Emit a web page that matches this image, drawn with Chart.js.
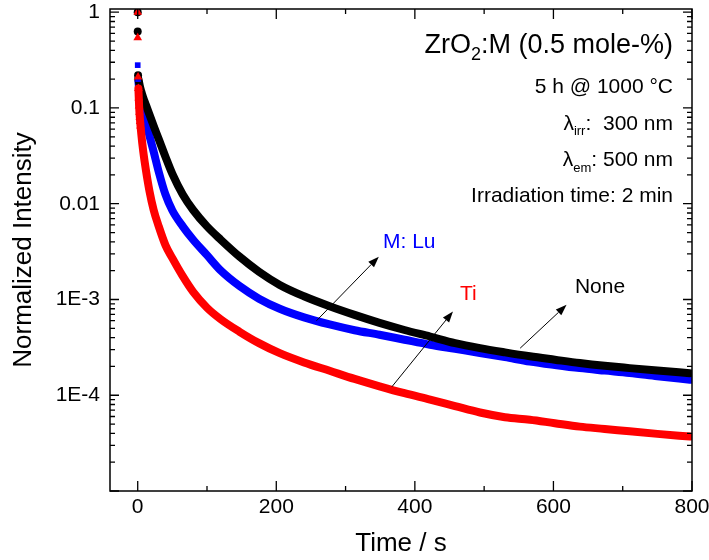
<!DOCTYPE html>
<html lang="en">
  <head>
    <meta charset="UTF-8" />
    <title>ZrO2:M persistent luminescence decay</title>
    <style>
      body { margin: 0; background: #fff; }
      canvas { display: block; }
    </style>
    <script src="https://cdn.jsdelivr.net/npm/chart.js"></script>
  </head>
  <body>
    <canvas id="chart" width="709" height="560"></canvas>
    <script>
      // time axis (s) of the main decay bands
      const mainT = [1, 2, 3, 5, 8, 12, 17, 23, 30, 40, 50, 65, 80, 100, 120, 147, 175, 205, 240,
        277, 313, 349, 385, 422, 458, 494, 530, 566, 602, 638, 674, 710, 750, 797];

      const noneI = [0.20, 0.185, 0.17, 0.15, 0.128, 0.107, 0.085, 0.065, 0.048, 0.031, 0.0205, 0.0125,
        0.0086, 0.0058, 0.0042, 0.0028, 0.00195, 0.00142, 0.00108, 0.00085, 0.00069, 0.00057, 0.00048,
        0.00041, 0.00035, 0.00031, 0.00028, 0.000255, 0.000235, 0.000217, 0.000203, 0.000192, 0.000181, 0.00017];

      const luI = [0.19, 0.16, 0.14, 0.115, 0.093, 0.07, 0.051, 0.035, 0.022, 0.0125, 0.0085, 0.0058,
        0.0042, 0.0029, 0.002, 0.00138, 0.00102, 0.0008, 0.00065, 0.000548, 0.000477, 0.000428, 0.00038,
        0.000337, 0.000305, 0.000276, 0.00025, 0.000225, 0.000207, 0.000192, 0.000181, 0.000171, 0.000158, 0.000145];

      const tiI = [0.16, 0.105, 0.08, 0.055, 0.035, 0.022, 0.0135, 0.0086, 0.0059, 0.0037, 0.0027, 0.00175,
        0.0012, 0.00082, 0.00062, 0.00046, 0.00035, 0.000275, 0.00022, 0.00018, 0.000148, 0.000124, 0.000105,
        0.00009, 0.000077, 0.000066, 0.000059, 0.0000555, 0.000051, 0.000047, 0.0000445, 0.000042, 0.0000395, 0.000037];

      // first separate measurement points near t = 0
      const noneEarlyT = [0, 0, 0.5];
      const noneEarlyI = [1, 0.63, 0.22];
      const luEarlyT = [0, 0, 0.5];
      const luEarlyI = [1, 0.28, 0.2];
      const tiEarlyT = [0, 0, 0.5, 1, 1.5, 2, 2.5, 3, 3.5, 4];
      const tiEarlyI = [1, 0.54, 0.21, 0.16, 0.127, 0.105, 0.09, 0.08, 0.072, 0.065];

      // axes
      const xTicks = [0, 200, 400, 600, 800];
      const xMinorTicks = [100, 300, 500, 700];
      const yTicks = [1e-4, 1e-3, 0.01, 0.1, 1];
      const yTickLabels = ["1E-4", "1E-3", "0.01", "0.1", "1"];
      const yDecades = [1e-5, 1e-4, 1e-3, 0.01, 0.1, 1];

      const RED = "#ff0000", BLUE = "#0000ff", BLACK = "#000000";
      const FONT = "'Liberation Sans', Arial, sans-serif";

      Chart.defaults.font.family = FONT;
      Chart.defaults.color = "#000";

      const pts = (t, v) => t.map((tt, i) => ({ x: tt, y: v[i] }));

      const band = (label, t, v, color, order) => ({
        label,
        data: pts(t, v),
        borderColor: color,
        backgroundColor: color,
        borderWidth: 8,
        pointRadius: 0,
        cubicInterpolationMode: "monotone",
        borderJoinStyle: "round",
        borderCapStyle: "round",
        order,
      });

      const dots = (label, t, v, color, style, r, order) => ({
        label,
        data: pts(t, v),
        showLine: false,
        pointStyle: style,
        pointRadius: r,
        borderWidth: 0,
        backgroundColor: color,
        borderColor: color,
        order,
      });

      // annotation layout (data coordinates)
      const arrows = [
        { from: [258, 6.0e-4], to: [348, 2.8e-3] },
        { from: [367, 1.23e-4], to: [455, 7.5e-4] },
        { from: [552, 3.1e-4], to: [619, 8.8e-4] },
      ];
      const seriesLabels = [
        { text: "M: Lu", at: [354, 3.47e-3], color: BLUE },
        { text: "Ti", at: [465, 9.95e-4], color: RED },
        { text: "None", at: [631, 1.18e-3], color: BLACK },
      ];

      // draws text made of parts (normal / subscript), right aligned
      function richRight(ctx, parts, xr, yb) {
        let w = 0;
        parts.forEach((p) => {
          ctx.font = p.size + "px " + FONT;
          p.w = ctx.measureText(p.t).width;
          w += p.w;
        });
        let x = xr - w;
        parts.forEach((p) => {
          ctx.font = p.size + "px " + FONT;
          ctx.fillText(p.t, x, yb + (p.dy || 0));
          x += p.w;
        });
      }

      const framePlugin = {
        id: "frame",
        afterDatasetsDraw(chart) {
          const { ctx, chartArea: a, scales } = chart;
          const x = scales.x, y = scales.y;
          ctx.save();
          ctx.strokeStyle = "#000";
          ctx.lineWidth = 1.5;
          ctx.strokeRect(a.left, a.top, a.right - a.left, a.bottom - a.top);

          ctx.lineWidth = 1.3;
          ctx.beginPath();
          const xt = (v, len) => {
            const px = x.getPixelForValue(v);
            ctx.moveTo(px, a.bottom); ctx.lineTo(px, a.bottom - len);
            ctx.moveTo(px, a.top); ctx.lineTo(px, a.top + len);
          };
          const yt = (v, len) => {
            const py = y.getPixelForValue(v);
            if (py < a.top - 0.5 || py > a.bottom + 0.5) return;
            ctx.moveTo(a.left, py); ctx.lineTo(a.left + len, py);
            ctx.moveTo(a.right, py); ctx.lineTo(a.right - len, py);
          };
          xTicks.forEach((v) => xt(v, 10));
          xMinorTicks.forEach((v) => xt(v, 5));
          yDecades.forEach((d) => {
            yt(d, 9);
            for (let m = 2; m <= 9; m++) yt(d * m, 5);
          });
          ctx.stroke();

          // arrows
          ctx.lineWidth = 1;
          ctx.fillStyle = "#000";
          arrows.forEach((ar) => {
            const x0 = x.getPixelForValue(ar.from[0]), y0 = y.getPixelForValue(ar.from[1]);
            const x1 = x.getPixelForValue(ar.to[0]), y1 = y.getPixelForValue(ar.to[1]);
            const ang = Math.atan2(y1 - y0, x1 - x0);
            const hl = 11, hw = 4;
            const bx = x1 - hl * Math.cos(ang), by = y1 - hl * Math.sin(ang);
            ctx.beginPath();
            ctx.moveTo(x0, y0);
            ctx.lineTo(bx, by);
            ctx.stroke();
            ctx.beginPath();
            ctx.moveTo(x1, y1);
            ctx.lineTo(bx + hw * Math.sin(ang), by - hw * Math.cos(ang));
            ctx.lineTo(bx - hw * Math.sin(ang), by + hw * Math.cos(ang));
            ctx.closePath();
            ctx.fill();
          });

          // series labels
          ctx.textBaseline = "alphabetic";
          ctx.textAlign = "left";
          ctx.font = "21px " + FONT;
          seriesLabels.forEach((l) => {
            ctx.fillStyle = l.color;
            ctx.fillText(l.text, x.getPixelForValue(l.at[0]), y.getPixelForValue(l.at[1]));
          });

          // info block, top right
          ctx.fillStyle = "#000";
          const xr = a.right - 19;
          richRight(ctx, [
            { t: "ZrO", size: 27 },
            { t: "2", size: 18, dy: 7 },
            { t: ":M (0.5 mole-%)", size: 27 },
          ], xr, a.top + 44);
          richRight(ctx, [{ t: "5 h @ 1000 °C", size: 21 }], xr, a.top + 84);
          richRight(ctx, [
            { t: "λ", size: 21 },
            { t: "irr", size: 13, dy: 5 },
            { t: ":  300 nm", size: 21 },
          ], xr, a.top + 121);
          richRight(ctx, [
            { t: "λ", size: 21 },
            { t: "em", size: 13, dy: 6 },
            { t: ": 500 nm", size: 21 },
          ], xr, a.top + 157);
          richRight(ctx, [{ t: "Irradiation time: 2 min", size: 21 }], xr, a.top + 193);
          ctx.restore();
        },
      };

      new Chart(document.getElementById("chart"), {
        type: "line",
        data: {
          datasets: [
            dots("Ti start", tiEarlyT, tiEarlyI, RED, "triangle", 5, 0),
            dots("None start", noneEarlyT, noneEarlyI, BLACK, "circle", 4, 1),
            dots("Lu start", luEarlyT, luEarlyI, BLUE, "rect", 4, 2),
            band("Ti", mainT, tiI, RED, 3),
            band("None", mainT, noneI, BLACK, 4),
            band("M: Lu", mainT, luI, BLUE, 5),
          ],
        },
        options: {
          responsive: false,
          animation: false,
          devicePixelRatio: 1,
          layout: { padding: { top: 9, right: 17, left: 0, bottom: 0 } },
          plugins: { legend: { display: false }, tooltip: { enabled: false } },
          scales: {
            x: {
              type: "linear",
              min: -40,
              max: 800,
              grid: { display: false, drawTicks: false },
              border: { display: false },
              afterBuildTicks: (s) => { s.ticks = xTicks.map((v) => ({ value: v })); },
              afterFit: (s) => {
                s.height = 69;
                s.paddingLeft = 0;
                s.paddingRight = 0;
              },
              ticks: {
                autoSkip: false,
                maxRotation: 0,
                padding: 4,
                font: { size: 21 },
                color: "#000",
                callback: (v) => String(v),
              },
              title: {
                display: true,
                text: "Time / s",
                font: { size: 26 },
                color: "#000",
                padding: { top: 0, bottom: 1 },
              },
            },
            y: {
              type: "logarithmic",
              min: 1e-5,
              max: 1.08,
              grid: { display: false, drawTicks: false },
              border: { display: false },
              afterBuildTicks: (s) => { s.ticks = yTicks.map((v) => ({ value: v })); },
              afterFit: (s) => {
                s.width = 110;
                s.paddingTop = 0;
                s.paddingBottom = 0;
              },
              ticks: {
                autoSkip: false,
                padding: 10,
                font: { size: 21 },
                color: "#000",
                callback: (v, i) => yTickLabels[i],
              },
              title: {
                display: true,
                text: "Normalized Intensity",
                font: { size: 26 },
                color: "#000",
                padding: { top: 8, bottom: 0 },
              },
            },
          },
        },
        plugins: [framePlugin],
      });
    </script>
  </body>
</html>
